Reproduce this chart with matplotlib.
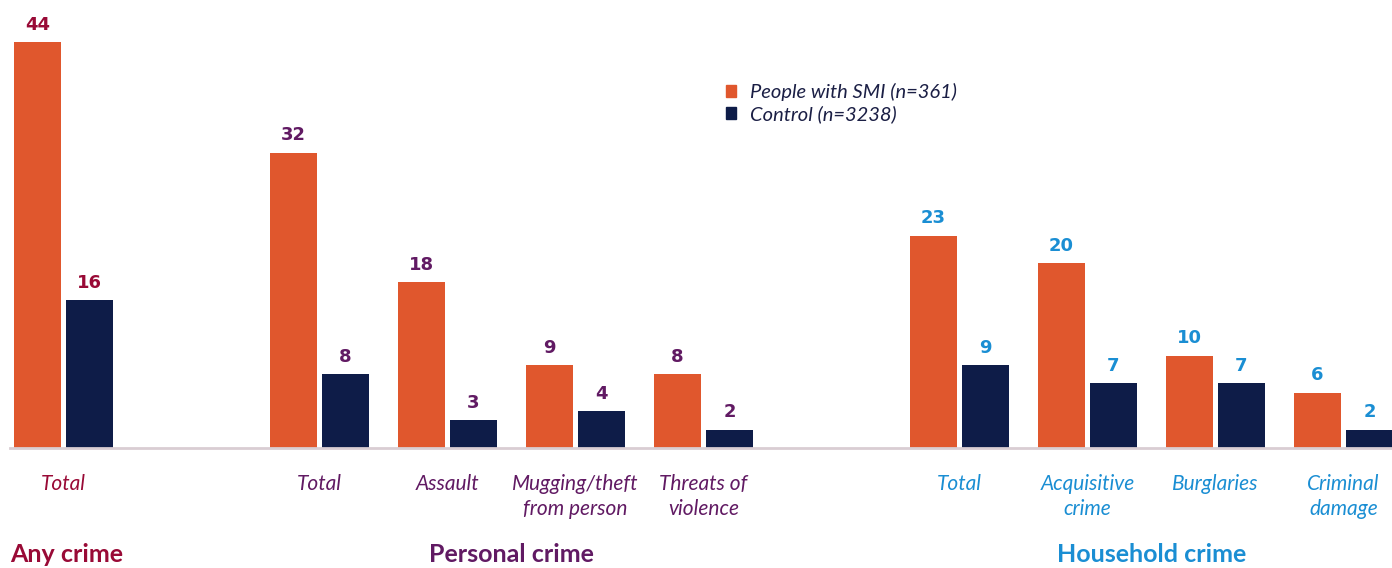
import matplotlib
matplotlib.use("Agg")
from matplotlib import pyplot as plt
from matplotlib.patches import Patch

# dados
categorias = ["Total", "Total", "Assault", "Mugging/theft\nfrom person", "Threats of\nviolence",
              "Total", "Acquisitive\ncrime", "Burglaries", "Criminal\ndamage"]
posicoes = [0, 2, 3, 4, 5, 7, 8, 9, 10]
smi = [44, 32, 18, 9, 8, 23, 20, 10, 6]
controle = [16, 8, 3, 4, 2, 9, 7, 7, 2]
grupo = [0, 1, 1, 1, 1, 2, 2, 2, 2]
grupos = ["Any crime", "Personal crime", "Household crime"]
legenda = ["People with SMI (n=361)", "Control (n=3238)"]

# cores
laranja = "#e0572d"
marinho = "#0e1c48"
cores_grupo = ["#990a36", "#611a63", "#1a8ed3"]

fig = plt.figure(figsize=(13.92, 5.68), dpi=100)
ax = fig.add_axes([0, 120/568, 1, 448/568])

larg = 47/128
desl = 26/128
b1 = ax.bar([p - desl for p in posicoes], smi, width=larg, color=laranja)
b2 = ax.bar([p + desl for p in posicoes], controle, width=larg, color=marinho)

ax.set_xlim(-63.5/128, (1392-63.5)/128)
ax.set_ylim(0, 448/(406/44))

# rotulos dos valores
for i in range(len(posicoes)):
    for x, v in [(posicoes[i] - desl, smi[i]), (posicoes[i] + desl, controle[i])]:
        ax.annotate(str(v), (x, v), xytext=(0, 6), textcoords="offset points",
                    ha="center", va="bottom", fontsize=13, fontweight="bold",
                    color=cores_grupo[grupo[i]], family="DejaVu Sans")

for s in ["top", "right", "left"]:
    ax.spines[s].set_visible(False)
ax.spines["bottom"].set_color("#d9cdd3")
ax.spines["bottom"].set_linewidth(2)
ax.spines["bottom"].set_bounds(-53.5/128, 11)
ax.set_yticks([])
ax.tick_params(axis="x", length=0, pad=19)
ax.set_xticks(posicoes)
ax.set_xticklabels(categorias, fontsize=15, style="italic", family="Lato",
                   va="top", linespacing=1.3)
for lbl, g in zip(ax.get_xticklabels(), grupo):
    lbl.set_color(cores_grupo[g])

# titulos dos grupos
ytit = -107/448
ax.text(-53.5/128, ytit, grupos[0], transform=ax.get_xaxis_transform(), ha="left", va="center",
        fontsize=18, fontweight="bold", family="Lato", color=cores_grupo[0])
ax.text(3.5, ytit, grupos[1], transform=ax.get_xaxis_transform(), ha="center", va="center",
        fontsize=18, fontweight="bold", family="Lato", color=cores_grupo[1])
ax.text(8.5, ytit, grupos[2], transform=ax.get_xaxis_transform(), ha="center", va="center",
        fontsize=18, fontweight="bold", family="Lato", color=cores_grupo[2])

# legenda
handles = [Patch(color=laranja), Patch(color=marinho)]
leg = fig.legend(handles, legenda, loc="upper left", bbox_to_anchor=(708/1392, 1 - 65/568),
                 frameon=False, handlelength=0.5, handleheight=0.5,
                 handletextpad=0.7, labelspacing=0.2, prop={"family": "Lato", "style": "italic", "size": 14.5})
for t in leg.get_texts():
    t.set_color("#1b1f45")

plt.savefig("out.png", dpi=100)
